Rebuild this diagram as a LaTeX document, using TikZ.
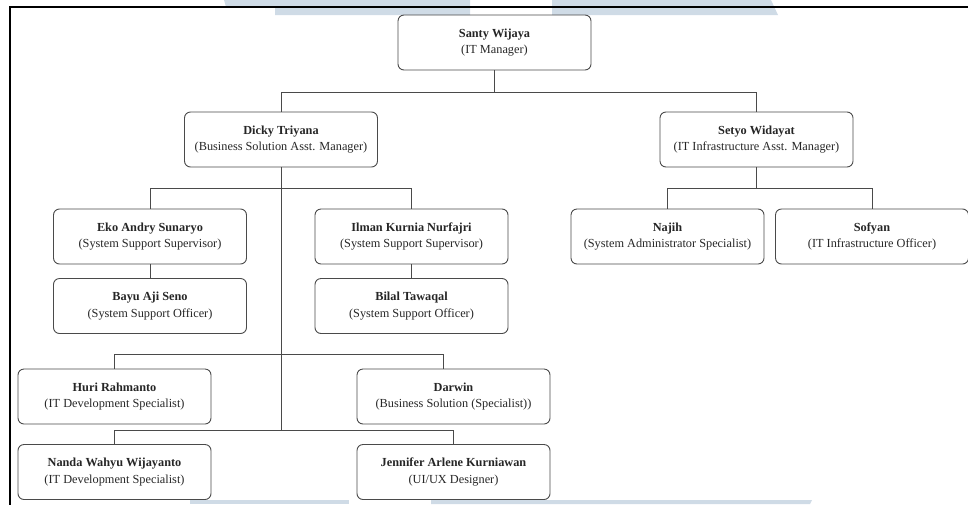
\documentclass[tikz,border=0pt]{standalone}
\usepackage{fontspec}
\setmainfont{Liberation Serif}
\usetikzlibrary{calc}
\definecolor{wm}{HTML}{CFDBE6}
\definecolor{ln}{HTML}{4A4A4A}
\begin{document}
\begin{tikzpicture}[x=1pt,y=-1pt,
  person/.style={draw=ln,line width=0.9pt,rounded corners=6pt,minimum width=193pt,minimum height=55pt,
    align=center,inner sep=0pt,font=\fontsize{12.3}{16.5}\selectfont,text=black!85},
  conn/.style={draw=ln,line width=0.9pt}]
\useasboundingbox (0,0) rectangle (968,504);
% watermark remnants
\fill[wm] (224,0) -- (470,0) -- (470,15) -- (275,15) -- (275,7) -- (226,7) -- cycle;
\fill[wm] (552,0) -- (771,0) -- (778,15) -- (552,15) -- cycle;
\fill[wm] (190,500) rectangle (349,504);
\fill[wm] (431,500) -- (812,500) -- (810,504) -- (431,504) -- cycle;
% frame
\draw[black,line width=1.1pt] (10,515) -- (10,7) -- (975,7);
% nodes
\node[person] (santy) at (494.5,42.5) {\textbf{Santy Wijaya}\\(IT Manager)};
\node[person] (dicky) at (281,139.5) {\textbf{Dicky Triyana}\\(Business Solution Asst. Manager)};
\node[person] (setyo) at (756.5,139.5) {\textbf{Setyo Widayat}\\(IT Infrastructure Asst. Manager)};
\node[person] (eko) at (150,236.5) {\textbf{Eko Andry Sunaryo}\\(System Support Supervisor)};
\node[person] (ilman) at (411.5,236.5) {\textbf{Ilman Kurnia Nurfajri}\\(System Support Supervisor)};
\node[person] (najih) at (667.5,236.5) {\textbf{Najih}\\(System Administrator Specialist)};
\node[person] (sofyan) at (872,236.5) {\textbf{Sofyan}\\(IT Infrastructure Officer)};
\node[person] (bayu) at (150,306) {\textbf{Bayu Aji Seno}\\(System Support Officer)};
\node[person] (bilal) at (411.5,306) {\textbf{Bilal Tawaqal}\\(System Support Officer)};
\node[person] (huri) at (114.5,396.5) {\textbf{Huri Rahmanto}\\(IT Development Specialist)};
\node[person] (darwin) at (453.5,396.5) {\textbf{Darwin}\\(Business Solution (Specialist))};
\node[person] (nanda) at (114.5,472) {\textbf{Nanda Wahyu Wijayanto}\\(IT Development Specialist)};
\node[person] (jennifer) at (453.5,472) {\textbf{Jennifer Arlene Kurniawan}\\(UI/UX Designer)};
% helper coordinates
\coordinate (t1) at ($(santy.south)+(0,22)$);
\coordinate (d1) at ($(dicky.south)+(0,21)$);
\coordinate (d2) at ($(dicky.south)+(0,187)$);
\coordinate (d3) at ($(dicky.south)+(0,263)$);
\coordinate (s1) at ($(setyo.south)+(0,21)$);
\coordinate (dw) at ($(darwin.north)+(-10,0)$);
% connectors
\draw[conn] (santy.south) -- (t1);
\draw[conn] (dicky.north) |- (t1) -| (setyo.north);
\draw[conn] (dicky.south) -- (d3);
\draw[conn] (eko.north) |- (d1) -| (ilman.north);
\draw[conn] (eko.south) -- (bayu.north);
\draw[conn] (ilman.south) -- (bilal.north);
\draw[conn] (huri.north) |- (d2) -| (dw);
\draw[conn] (nanda.north) |- (d3) -| (jennifer.north);
\draw[conn] (najih.north) |- (s1) -| (sofyan.north);
\draw[conn] (setyo.south) -- (s1);
\end{tikzpicture}
\end{document}
